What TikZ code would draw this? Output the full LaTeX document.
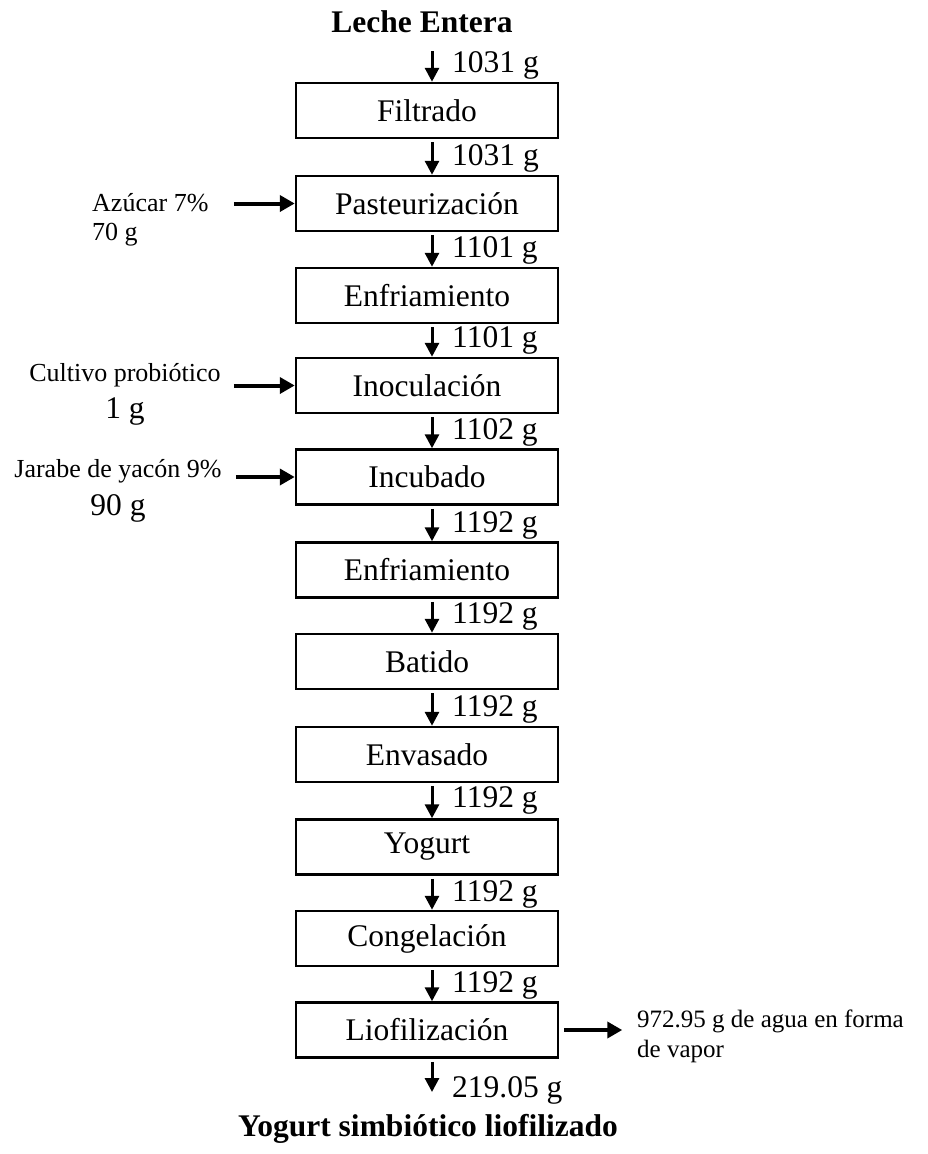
\documentclass[tikz,border=0pt]{standalone}
\usepackage{fontspec}
\setmainfont{Liberation Serif}
\usetikzlibrary{arrows.meta}

\begin{document}
\begin{tikzpicture}[x=1pt, y=-1pt,
    caja/.style={draw, line width=2.5pt, minimum width=262pt, minimum height=55pt,
        inner sep=0pt, font=\fontsize{31.5}{36}\selectfont},
    flujo/.style={-{Triangle[length=14pt,width=14pt]}, line width=3pt, shorten <=3pt},
    entrada/.style={-{Triangle[length=15pt,width=16pt]}, line width=4pt},
    masa/.style={anchor=base west, inner sep=0pt, font=\fontsize{31.5}{36}\selectfont},
    titulo/.style={inner sep=0pt, font=\fontsize{31.5}{36}\selectfont\bfseries}]

    \useasboundingbox (0,0) rectangle (927,1154);

    % Titulos
    \node[titulo] (leche) at (422,22) {Leche Entera};
    \node[titulo] (producto) at (428,1129) {Yogurt simbiótico liofilizado};

    % Etapas
    \node[caja] (filtrado) at (427,110.5) {Filtrado};
    \node[caja] (pasteurizacion) at (427,203.5) {Pasteurización};
    \node[caja] (enfriamientoA) at (427,295.5) {Enfriamiento};
    \node[caja] (inoculacion) at (427,385.5) {Inoculación};
    \node[caja] (incubado) at (427,477) {Incubado};
    \node[caja] (enfriamientoB) at (427,570) {Enfriamiento};
    \node[caja] (batido) at (427,661.5) {Batido};
    \node[caja] (envasado) at (427,754.5) {Envasado};
    \node[caja] (yogurt) at (427,847) {Yogurt};
    \node[caja] (congelacion) at (427,938.5) {Congelación};
    \node[caja] (liofilizacion) at (427,1030) {Liofilización};

    % Flechas verticales
    \coordinate (inicio) at (432,48);
    \coordinate (fin) at (432,1092);
    \draw[flujo] (inicio) -- ([xshift=5pt]filtrado.north);
    \draw[flujo] ([xshift=5pt]filtrado.south) -- ([xshift=5pt]pasteurizacion.north);
    \draw[flujo] ([xshift=5pt]pasteurizacion.south) -- ([xshift=5pt]enfriamientoA.north);
    \draw[flujo] ([xshift=5pt]enfriamientoA.south) -- ([xshift=5pt]inoculacion.north);
    \draw[flujo] ([xshift=5pt]inoculacion.south) -- ([xshift=5pt]incubado.north);
    \draw[flujo] ([xshift=5pt]incubado.south) -- ([xshift=5pt]enfriamientoB.north);
    \draw[flujo] ([xshift=5pt]enfriamientoB.south) -- ([xshift=5pt]batido.north);
    \draw[flujo] ([xshift=5pt]batido.south) -- ([xshift=5pt]envasado.north);
    \draw[flujo] ([xshift=5pt]envasado.south) -- ([xshift=5pt]yogurt.north);
    \draw[flujo] ([xshift=5pt]yogurt.south) -- ([xshift=5pt]congelacion.north);
    \draw[flujo] ([xshift=5pt]congelacion.south) -- ([xshift=5pt]liofilizacion.north);
    \draw[flujo] ([xshift=5pt]liofilizacion.south) -- (fin);

    % Masas
    \node[masa] (m1) at (452,72) {1031 g};
    \node[masa] (m2) at (452,165) {1031 g};
    \node[masa] (m3) at (452,257) {1101 g};
    \node[masa] (m4) at (452,347) {1101 g};
    \node[masa] (m5) at (452,439) {1102 g};
    \node[masa] (m6) at (452,532) {1192 g};
    \node[masa] (m7) at (452,623) {1192 g};
    \node[masa] (m8) at (452,716) {1192 g};
    \node[masa] (m9) at (452,807) {1192 g};
    \node[masa] (m10) at (452,901) {1192 g};
    \node[masa] (m11) at (452,992) {1192 g};
    \node[masa] (m12) at (452,1097) {219.05 g};

    % Insumos
    \node[anchor=west, align=left, inner sep=0pt, font=\fontsize{26}{29}\selectfont]
        (azucar) at (92,219.5) {Azúcar 7\%\\70 g};
    \node[align=center, inner sep=0pt, font=\fontsize{26}{37}\selectfont]
        (cultivo) at (125,394) {Cultivo probiótico\\{\fontsize{31.5}{37}\selectfont 1 g}};
    \node[align=center, inner sep=0pt, font=\fontsize{26}{38}\selectfont]
        (jarabe) at (118,491) {Jarabe de yacón 9\%\\{\fontsize{31.5}{38}\selectfont 90 g}};
    \node[anchor=west, align=left, inner sep=0pt, font=\fontsize{25}{30}\selectfont]
        (vapor) at (637,1036) {972.95 g de agua en forma\\de vapor};

    \draw[entrada] ([xshift=-61pt]pasteurizacion.west) -- (pasteurizacion.west);
    \draw[entrada] ([xshift=-61pt]inoculacion.west) -- (inoculacion.west);
    \draw[entrada] ([xshift=-59pt]incubado.west) -- (incubado.west);
    \draw[entrada] ([xshift=5pt]liofilizacion.east) -- ([xshift=63pt]liofilizacion.east);

\end{tikzpicture}
\end{document}
